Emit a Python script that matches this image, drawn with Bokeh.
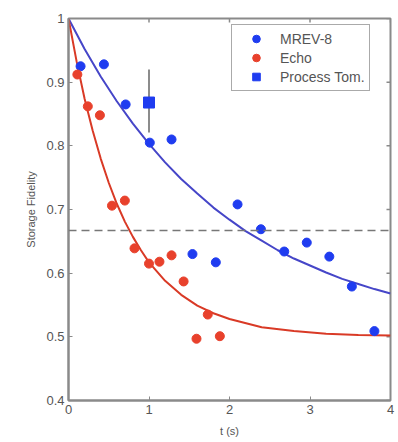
import math
from bokeh.plotting import figure
from bokeh.models import Span, Legend, LegendItem, Whisker, ColumnDataSource, FixedTicker, Range1d
from bokeh.embed import file_html
from bokeh.resources import INLINE

# MREV-8 data
mrev_t = [0.15, 0.44, 0.71, 1.01, 1.28, 1.54, 1.83, 2.10, 2.39, 2.68, 2.96, 3.24, 3.52, 3.80]
mrev_f = [0.925, 0.928, 0.865, 0.805, 0.810, 0.630, 0.617, 0.708, 0.669, 0.634, 0.648, 0.626, 0.579, 0.509]

# Echo data
echo_t = [0.11, 0.24, 0.39, 0.54, 0.70, 0.82, 1.00, 1.13, 1.28, 1.43, 1.59, 1.73, 1.88]
echo_f = [0.912, 0.862, 0.848, 0.706, 0.714, 0.639, 0.615, 0.618, 0.628, 0.587, 0.497, 0.535, 0.501]

# Process tomography
tomo_t = [1.0]
tomo_f = [0.868]
tomo_lo = [0.821]
tomo_hi = [0.920]

# Fit curves
mrev_fit_t = [0, 0.2, 0.4, 0.6, 0.8, 1.0, 1.2, 1.4, 1.6, 1.8, 2.0, 2.2, 2.4, 2.6, 2.8, 3.0, 3.2, 3.4, 3.6, 3.8, 4.0]
mrev_fit_f = [1.0, 0.952, 0.909, 0.870, 0.835, 0.803, 0.774, 0.748, 0.725, 0.703, 0.684, 0.666, 0.651, 0.636, 0.623, 0.612, 0.601, 0.591, 0.583, 0.575, 0.568]
echo_fit_t = [0, 0.1, 0.2, 0.3, 0.4, 0.5, 0.6, 0.7, 0.8, 0.9, 1.0, 1.2, 1.4, 1.6, 1.8, 2.0, 2.4, 2.8, 3.2, 3.6, 4.0]
echo_fit_f = [1.0, 0.933, 0.874, 0.824, 0.780, 0.742, 0.709, 0.681, 0.657, 0.636, 0.617, 0.588, 0.566, 0.549, 0.537, 0.528, 0.515, 0.509, 0.505, 0.503, 0.502]

threshold = 0.667

x_ticks = [0, 1, 2, 3, 4]
y_ticks = [0.4, 0.5, 0.6, 0.7, 0.8, 0.9, 1.0]
y_labels = {0.4: "0.4", 0.5: "0.5", 0.6: "0.6", 0.7: "0.7", 0.8: "0.8", 0.9: "0.9", 1.0: "1"}

BLUE = "#1f3cf0"
BLUE_LINE = "#4646c8"
RED = "#e8412c"
RED_LINE = "#d93a26"
AX = "#8a8a8a"
TXT = "#555555"
FONT = "Liberation Sans"

X0, X1 = 0, 4
Y0, Y1 = 0.4, 1.0

p = figure(width=398, height=442, output_backend="svg", toolbar_location=None,
           x_range=Range1d(X0, X1), y_range=Range1d(Y0, Y1),
           x_axis_label="t (s)", y_axis_label="Storage Fidelity",
           min_border_left=68, min_border_top=18, min_border_right=8, min_border_bottom=42)
p.grid.visible = False
p.outline_line_color = AX
p.outline_line_width = 2
p.background_fill_color = "white"
p.border_fill_color = "white"

for ax in [p.xaxis[0], p.yaxis[0]]:
    ax.axis_line_color = AX
    ax.axis_line_width = 2
    ax.major_tick_line_color = AX
    ax.major_tick_in = 4
    ax.major_tick_out = 0
    ax.minor_tick_line_color = None
    ax.major_label_text_font = FONT
    ax.major_label_text_font_size = "13px"
    ax.major_label_text_color = TXT
    ax.axis_label_text_font = FONT
    ax.axis_label_text_font_style = "normal"
    ax.axis_label_text_font_size = "11px"
    ax.axis_label_text_color = TXT
p.xaxis[0].ticker = FixedTicker(ticks=x_ticks)
p.yaxis[0].ticker = FixedTicker(ticks=y_ticks)
p.yaxis[0].major_label_overrides = y_labels
p.xaxis[0].major_label_standoff = 4
p.yaxis[0].major_label_standoff = 4
p.xaxis[0].axis_label_standoff = 8
p.yaxis[0].axis_label_standoff = 6

# inward ticks on the top and right edges of the box
p.scatter(x_ticks, [Y1] * len(x_ticks), marker="dash", size=8, angle=math.pi / 2,
          line_color=AX, line_width=1.5)
p.scatter([X1] * len(y_ticks), y_ticks, marker="dash", size=8,
          line_color=AX, line_width=1.5)

p.add_layout(Span(location=threshold, dimension="width", line_color="#777777",
                  line_width=1.5, line_dash="8 5"))

p.line(mrev_fit_t, mrev_fit_f, line_color=BLUE_LINE, line_width=2)
p.line(echo_fit_t, echo_fit_f, line_color=RED_LINE, line_width=2)

src = ColumnDataSource(dict(t=tomo_t, lo=tomo_lo, hi=tomo_hi))
p.add_layout(Whisker(source=src, base="t", lower="lo", upper="hi", line_color="#666666",
                     line_width=1.5, upper_head=None, lower_head=None))

r_m = p.scatter(mrev_t, mrev_f, marker="circle", size=9, fill_color=BLUE, line_color=BLUE)
r_e = p.scatter(echo_t, echo_f, marker="circle", size=9, fill_color=RED, line_color=RED)
r_p = p.scatter(tomo_t, tomo_f, marker="square", size=11, fill_color=BLUE, line_color=BLUE)

legend = Legend(items=[LegendItem(label="MREV-8", renderers=[r_m]),
                       LegendItem(label="Echo", renderers=[r_e]),
                       LegendItem(label="Process Tom.", renderers=[r_p])],
                location=(163, 309), padding=4, spacing=0, margin=0,
                glyph_width=40, glyph_height=19, label_height=19, label_standoff=4,
                label_text_font=FONT, label_text_font_size="14px", label_text_color=TXT,
                border_line_color="#555555", border_line_width=1.5,
                background_fill_alpha=1.0)
p.add_layout(legend)

open("out.html", "w").write(file_html(p, INLINE))
